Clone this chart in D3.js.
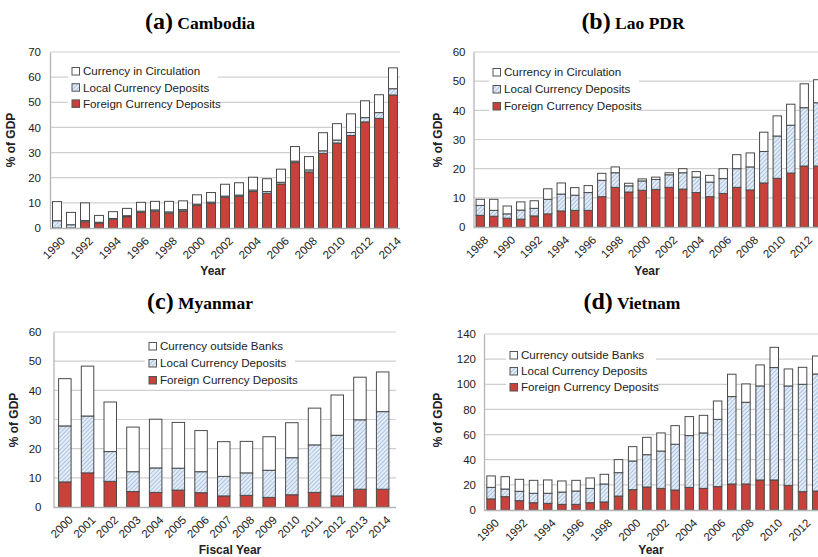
<!DOCTYPE html>
<html>
<head>
<meta charset="utf-8">
<script src="https://cdn.jsdelivr.net/npm/d3@7"></script>
<style>
  html, body { margin: 0; padding: 0; background: #fff; }
  svg { display: block; }
  text { font-family: "Liberation Sans", Arial, sans-serif; }
</style>
</head>
<body>
<svg id="chart" width="818" height="557"></svg>
<script>
// ---- Cambodia ----
const camYears = d3.range(1990, 2015);
const camForeign  = [0, 0, 2.5, 2.0, 3.5, 4.5, 6.2, 6.7, 5.9, 6.8, 9.0, 9.8, 12.2, 12.6, 14.5, 13.8, 17.5, 26.0, 22.3, 29.7, 33.8, 36.8, 42.2, 43.6, 52.9];
const camLocal    = [2.9, 1.3, 0.5, 0.3, 0.3, 0.4, 0.5, 0.5, 0.5, 0.5, 0.5, 0.5, 0.5, 0.5, 0.6, 0.7, 0.7, 0.6, 0.8, 1.0, 1.2, 1.2, 1.7, 2.3, 2.5];
const camCurrency = [7.6, 4.9, 7.0, 2.7, 2.7, 2.9, 3.5, 3.4, 4.2, 3.5, 3.7, 3.8, 4.7, 4.9, 5.1, 5.1, 5.2, 5.8, 5.3, 7.2, 6.5, 7.4, 6.7, 7.1, 8.3];

// ---- Lao PDR ----
const laoYears = d3.range(1988, 2014);
const laoForeign  = [4.0, 3.7, 3.0, 2.7, 3.8, 4.5, 5.5, 5.7, 5.7, 10.4, 13.6, 12.0, 12.6, 12.9, 13.6, 13.0, 11.8, 10.4, 11.5, 13.6, 12.7, 15.1, 16.7, 18.5, 20.9, 20.9];
const laoLocal    = [3.4, 2.0, 1.5, 3.1, 2.6, 5.0, 5.8, 5.2, 6.1, 5.6, 5.0, 2.1, 3.2, 3.4, 4.3, 5.6, 5.3, 5.0, 5.1, 6.4, 7.9, 10.8, 14.5, 16.4, 20.0, 21.7];
const laoCurrency = [2.1, 3.8, 2.7, 2.8, 2.6, 3.6, 3.8, 2.6, 2.4, 2.4, 2.0, 0.9, 0.7, 0.8, 0.7, 1.4, 1.9, 2.3, 3.4, 4.8, 4.8, 6.6, 6.9, 7.2, 8.2, 7.9];

// ---- Myanmar (fiscal years) ----
const myaYears = d3.range(2000, 2015);
const myaForeign  = [8.6, 11.7, 8.8, 5.3, 5.0, 5.8, 4.9, 3.8, 4.0, 3.3, 4.2, 5.0, 3.8, 6.1, 6.1];
const myaLocal    = [19.2, 19.5, 10.2, 6.8, 8.4, 7.5, 7.2, 6.7, 7.7, 9.3, 12.7, 16.3, 20.8, 23.8, 26.6];
const myaCurrency = [16.2, 17.1, 17.0, 15.3, 16.7, 15.7, 14.1, 11.9, 10.8, 11.5, 12.0, 12.6, 13.8, 14.6, 13.6];

// ---- Vietnam ----
const vnmYears = d3.range(1990, 2014);
const vnmForeign  = [8.8, 10.6, 7.4, 5.8, 5.3, 4.5, 4.5, 5.8, 6.4, 11.1, 16.2, 18.3, 17.2, 15.9, 18.0, 17.2, 18.6, 20.7, 20.7, 23.9, 23.9, 19.6, 14.6, 15.1];
const vnmLocal    = [9.2, 6.1, 7.5, 7.5, 8.0, 9.8, 10.6, 11.4, 14.3, 18.6, 22.8, 25.7, 29.7, 36.4, 41.2, 44.1, 53.5, 69.5, 65.0, 74.8, 89.4, 79.1, 85.4, 93.1];
const vnmCurrency = [9.1, 9.8, 9.5, 10.3, 10.6, 8.8, 8.5, 8.3, 7.7, 10.4, 11.4, 13.8, 14.4, 14.8, 15.1, 14.0, 14.6, 17.8, 14.6, 16.7, 16.1, 13.5, 13.5, 14.3];

// Legend labels
const legendCirculation = ["Currency in Circulation", "Local Currency Deposits", "Foreign Currency Deposits"];
const legendOutside = ["Currency outside Banks", "Local Currency Deposits", "Foreign Currency Deposits"];

const svg = d3.select("#chart");
const defs = svg.append("defs");

// diagonal hatch for local-currency deposits
const pat = defs.append("pattern")
  .attr("id", "hatch")
  .attr("patternUnits", "userSpaceOnUse")
  .attr("width", 3).attr("height", 3)
  .attr("patternTransform", "rotate(45)");
pat.append("rect").attr("width", 3).attr("height", 3).attr("fill", "#e3ecf7");
pat.append("line").attr("x1", 0).attr("y1", 0).attr("x2", 0).attr("y2", 3)
  .attr("stroke", "#8eaed6").attr("stroke-width", 1.3);

const seriesKeys = ["foreign", "local", "currency"];
const fills = { foreign: "#c9413b", local: "url(#hatch)", currency: "#ffffff" };

function panel(cfg) {
  const g = svg.append("g");
  const rows = cfg.years.map((yr, i) => ({
    year: yr, foreign: cfg.foreign[i], local: cfg.local[i], currency: cfg.currency[i]
  }));
  const x = d3.scaleBand().domain(cfg.years).range([cfg.bandLeft, cfg.bandRight])
    .paddingInner(cfg.pad).paddingOuter(cfg.pad / 2);
  const y = d3.scaleLinear().domain([0, cfg.yMax]).range([cfg.bottom, cfg.top]);
  const ticks = d3.range(0, cfg.yMax + 0.001, cfg.yStep);

  // gridlines
  g.append("g").selectAll("line").data(ticks.slice(1)).join("line")
    .attr("x1", cfg.axisLeft).attr("x2", cfg.gridRight)
    .attr("y1", d => y(d)).attr("y2", d => y(d))
    .attr("stroke", "#cfcfcf").attr("stroke-width", 1.2);

  // legend box (white, over gridlines)
  const lg = g.append("g");
  lg.append("rect").attr("x", cfg.legend.x - 4).attr("y", cfg.legend.y - 8)
    .attr("width", cfg.legend.w).attr("height", 50).attr("fill", "#fff");

  // y axis
  const yAxis = d3.axisLeft(y).tickValues(ticks).tickSize(0).tickPadding(cfg.tickPad);
  const ya = g.append("g").attr("transform", `translate(${cfg.axisLeft},0)`).call(yAxis);
  ya.select(".domain").attr("stroke", "#b5b5b5").attr("stroke-width", 1.3);
  ya.selectAll("text").attr("font-size", 11.5).attr("fill", "#222")
    .style("font-family", "'Liberation Sans', Arial, sans-serif");

  // stacked bars
  const stack = d3.stack().keys(seriesKeys)(rows);
  g.append("g").selectAll("g").data(stack).join("g")
    .attr("fill", s => fills[s.key])
    .selectAll("rect").data(s => s.filter(d => d[1] - d[0] > 0)).join("rect")
    .attr("x", d => x(d.data.year))
    .attr("width", x.bandwidth())
    .attr("y", d => y(d[1]))
    .attr("height", d => y(d[0]) - y(d[1]))
    .attr("stroke", "#4a4a4a").attr("stroke-width", 1);

  // x axis baseline
  g.append("line").attr("x1", cfg.axisLeft).attr("x2", cfg.gridRight)
    .attr("y1", cfg.bottom + 0.5).attr("y2", cfg.bottom + 0.5)
    .attr("stroke", "#b5b5b5").attr("stroke-width", 1.3);

  // x tick labels, rotated
  const labeled = cfg.years.filter((yr, i) => i % cfg.every === 0);
  g.append("g").selectAll("text").data(labeled).join("text")
    .attr("transform", d => `translate(${x(d) + x.bandwidth() / 2 + 3},${cfg.bottom + 8}) rotate(-45)`)
    .attr("text-anchor", "end").attr("dy", "0.7em")
    .attr("font-size", 11.5).attr("fill", "#222")
    .text(d => d);

  // axis titles
  g.append("text").attr("x", cfg.xTitle[0]).attr("y", cfg.xTitle[1])
    .attr("text-anchor", "middle").attr("font-size", 12).attr("font-weight", "bold")
    .attr("fill", "#222").text(cfg.xLabel);
  g.append("text")
    .attr("transform", `translate(${cfg.yTitle[0]},${cfg.yTitle[1]}) rotate(-90)`)
    .attr("text-anchor", "middle").attr("font-size", 12).attr("font-weight", "bold")
    .attr("fill", "#222").text("% of GDP");

  // panel title
  const t = g.append("text").attr("x", cfg.title[0]).attr("y", cfg.title[1])
    .attr("text-anchor", "middle").attr("font-weight", "bold")
    .style("font-family", "'Liberation Serif', 'Times New Roman', serif");
  t.append("tspan").attr("font-size", 24).text(cfg.letter);
  t.append("tspan").attr("font-size", 17.5).text(" " + cfg.name);

  // legend entries
  const legendFills = [fills.currency, fills.local, fills.foreign];
  cfg.legendLabels.forEach((lab, i) => {
    const yy = cfg.legend.y + i * cfg.legend.dy;
    lg.append("rect").attr("x", cfg.legend.x).attr("y", yy - 3.5)
      .attr("width", 7.5).attr("height", 7.5)
      .attr("fill", legendFills[i]).attr("stroke", "#555").attr("stroke-width", 1);
    lg.append("text").attr("x", cfg.legend.x + 11).attr("y", yy).attr("dy", "0.38em")
      .attr("font-size", 11.6).attr("fill", "#222").text(lab);
  });
}

panel({
  years: camYears, foreign: camForeign, local: camLocal, currency: camCurrency,
  axisLeft: 50, bandLeft: 50, bandRight: 400, gridRight: 400, pad: 0.36,
  top: 52, bottom: 228, yMax: 70, yStep: 10, tickPad: 9, every: 2,
  xLabel: "Year", xTitle: [213, 275], yTitle: [15, 140],
  title: [200, 29], letter: "(a)", name: "Cambodia",
  legend: { x: 72, y: 71, dy: 16.2, w: 150 }, legendLabels: legendCirculation
});

panel({
  years: laoYears, foreign: laoForeign, local: laoLocal, currency: laoCurrency,
  axisLeft: 473.5, bandLeft: 473.5, bandRight: 824.5, gridRight: 830, pad: 0.38,
  top: 52, bottom: 227, yMax: 60, yStep: 10, tickPad: 8, every: 2,
  xLabel: "Year", xTitle: [647, 275], yTitle: [442, 140],
  title: [633, 29], letter: "(b)", name: "Lao PDR",
  legend: { x: 493, y: 72, dy: 17, w: 150 }, legendLabels: legendCirculation
});

panel({
  years: myaYears, foreign: myaForeign, local: myaLocal, currency: myaCurrency,
  axisLeft: 53.5, bandLeft: 53.5, bandRight: 394, gridRight: 396, pad: 0.45,
  top: 332, bottom: 507, yMax: 60, yStep: 10, tickPad: 12, every: 1,
  xLabel: "Fiscal Year", xTitle: [230, 554], yTitle: [18, 420],
  title: [200, 309], letter: "(c)", name: "Myanmar",
  legend: { x: 149, y: 346, dy: 17, w: 150 }, legendLabels: legendOutside
});

panel({
  years: vnmYears, foreign: vnmForeign, local: vnmLocal, currency: vnmCurrency,
  axisLeft: 484, bandLeft: 484, bandRight: 823.8, gridRight: 830, pad: 0.4,
  top: 334, bottom: 510, yMax: 140, yStep: 20, tickPad: 8, every: 2,
  xLabel: "Year", xTitle: [651, 554], yTitle: [442, 420],
  title: [632, 309], letter: "(d)", name: "Vietnam",
  legend: { x: 510, y: 355, dy: 16, w: 150 }, legendLabels: legendOutside
});
</script>
</body>
</html>
